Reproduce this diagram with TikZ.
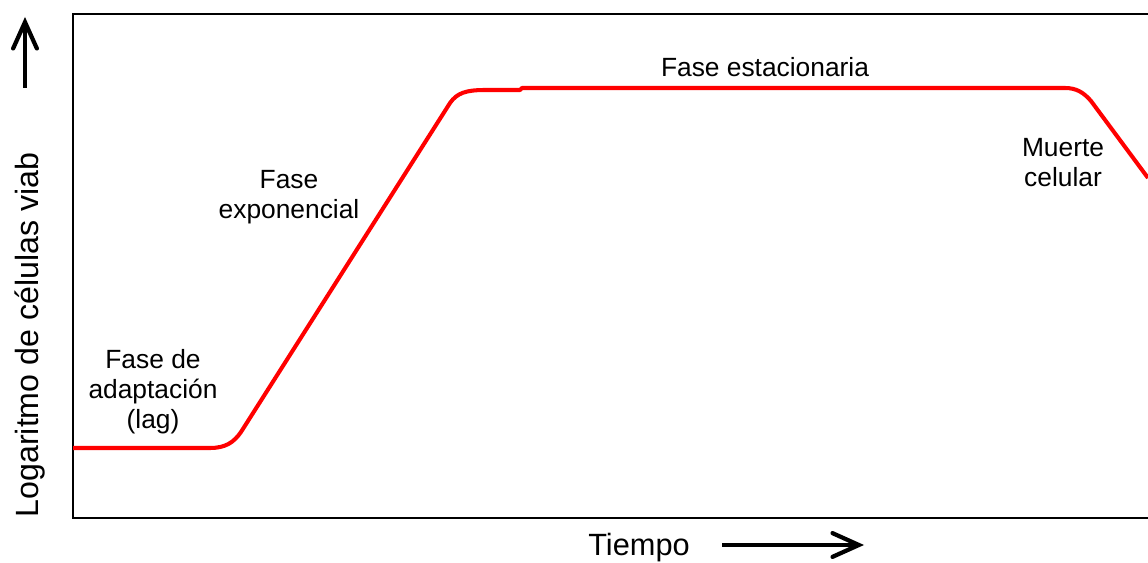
\documentclass[tikz,border=0pt]{standalone}
\usepackage{fontspec}
\setmainfont{Liberation Sans}
\usetikzlibrary{arrows.meta}
\tikzset{
	fase/.style={align=center, font=\fontsize{15}{17}\selectfont, inner sep=0pt},
	eje/.style={font=\fontsize{17.5}{20}\selectfont, inner sep=0pt},
	flecha/.style={line width=2.4pt, -{Straight Barb[length=15pt, width=13.5pt, line cap=round]}},
	curva/.style={red, line width=2.3pt, line join=round}
}
\begin{document}
\begin{tikzpicture}[x=0.02cm, y=-0.02cm]
		\useasboundingbox (0,0) rectangle (1148,563);
		% Labels
		\node[fase] (estac) at (765,67) {Fase estacionaria};
		\node[fase] (muerte) at (1063,163) {Muerte\\celular};
		\node[fase] (expo) at (289,197) {Fase\\exponencial};
		\node[fase] (lag) at (153,392) {Fase de\\adaptación\\(lag)};
		\node[eje] (tiempo) at (639,548) {Tiempo};
		\node[eje, rotate=90, font=\fontsize{18.3}{21}\selectfont] (logcel) at (30,335) {Logaritmo de células viab};
		% Arrows
		\coordinate (ya) at (25,88);
		\coordinate (yb) at (25,17);
		\coordinate (xa) at (722,545);
		\coordinate (xb) at (864,545);
		\draw[flecha] (ya) -- (yb);
		\draw[flecha] (xa) -- (xb);
		% Frame
		\draw[line width=1.3pt] (1148,14) -- (73,14) -- (73,518) -- (1148,518);
		% Growth curve
		\draw[curva] (73,448) -- (210,448)
			.. controls (226,448) and (234,442) .. (241,432)
			-- (450,103)
			.. controls (457,93) and (466,90) .. (485,90)
			-- (520,90) -- (522,88) -- (1065,88)
			.. controls (1077,88) and (1084,93) .. (1091,101)
			-- (1148,178);
	\end{tikzpicture}
\end{document}
